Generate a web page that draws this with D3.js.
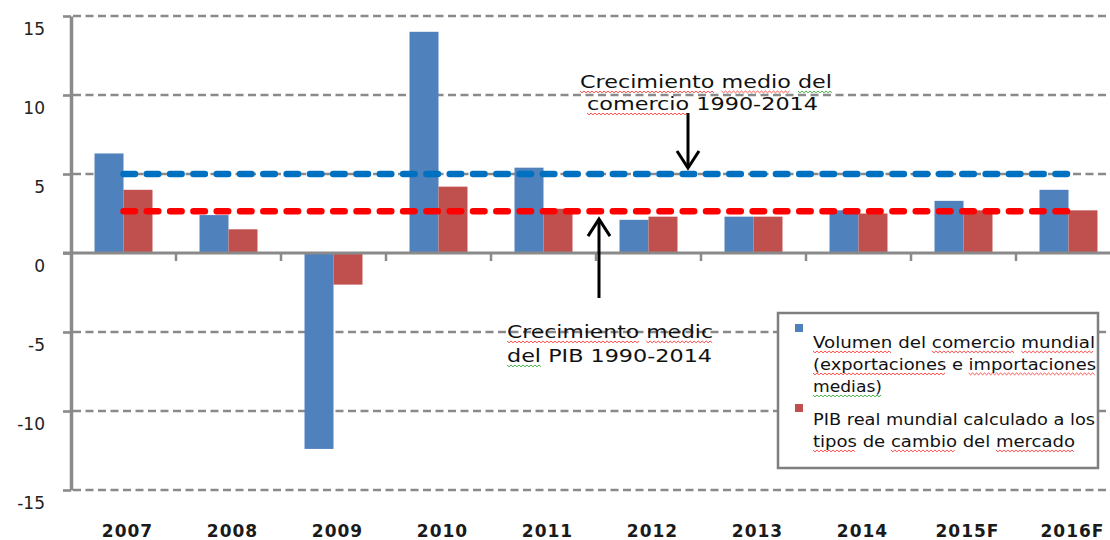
<!DOCTYPE html>
<html>
<head>
<meta charset="utf-8">
<script src="https://cdn.jsdelivr.net/npm/d3@7"></script>
<style>
  html, body { margin: 0; padding: 0; background: #fff; }
  svg { display: block; }
</style>
</head>
<body>
<div id="chart"></div>
<script>
// ---- data ----
let years = ["2007", "2008", "2009", "2010", "2011", "2012", "2013", "2014", "2015F", "2016F"]
let tradeVolume = [6.3, 2.4, -12.4, 14.0, 5.4, 2.1, 2.3, 2.7, 3.3, 4.0]
let realGDP = [4.0, 1.5, -2.0, 4.2, 2.8, 2.3, 2.3, 2.5, 2.7, 2.7]
let avgTrade = 5.0   // crecimiento medio del comercio 1990-2014
let avgGDP = 2.65    // crecimiento medio del PIB 1990-2014
let yTicks = [-15, -10, -5, 0, 5, 10, 15]
let seriesKeys = ["trade", "gdp"]
let seriesColors = {trade: "#4f81bd", gdp: "#c0504d"}
let legendTrade = ["Volumen del comercio mundial", "(exportaciones e importaciones", "medias)"]
let legendGDP = ["PIB real mundial calculado a los", "tipos de cambio del mercado"]
let noteTrade = ["Crecimiento medio del", "comercio 1990-2014"]
let noteGDP = ["Crecimiento medic", "del PIB 1990-2014"]

let rows = years.map((yr, i) => ({year: yr, trade: tradeVolume[i], gdp: realGDP[i]}))

let svg_width = 1110
let svg_height = 540
let plotLeft = 71
let plotRight = 1121
let plotTop = 16
let plotBottom = 490
let gray = "#8a8a8a"

let svg = d3.select("#chart")
  .append("svg")
  .attr("width", svg_width)
  .attr("height", svg_height)
  .style("font-family", "'DejaVu Sans', Verdana, sans-serif")

let y = d3.scaleLinear().domain([-15, 15]).range([plotBottom, plotTop])

let x0 = d3.scaleBand()
  .domain(years)
  .range([plotLeft, plotRight])
  .paddingInner(0.448)
  .paddingOuter(0.224)

let x1 = d3.scaleBand().domain(seriesKeys).range([0, x0.bandwidth()])

// dashed gridlines (not at zero)
svg.append("g")
  .selectAll("line")
  .data(yTicks.filter(t => t !== 0))
  .enter()
  .append("line")
  .attr("x1", plotLeft + 2)
  .attr("x2", svg_width)
  .attr("y1", d => y(d))
  .attr("y2", d => y(d))
  .attr("stroke", gray)
  .attr("stroke-width", 2.6)
  .attr("stroke-dasharray", "8,4.5")

// bars
let groups = svg.append("g")
  .selectAll("g")
  .data(rows)
  .enter()
  .append("g")
  .attr("transform", d => `translate(${x0(d.year)},0)`)

groups.selectAll("rect")
  .data(d => seriesKeys.map(k => ({key: k, value: d[k]})))
  .enter()
  .append("rect")
  .attr("x", d => x1(d.key))
  .attr("width", x1.bandwidth())
  .attr("y", d => y(Math.max(0, d.value)))
  .attr("height", d => Math.abs(y(d.value) - y(0)))
  .attr("fill", d => seriesColors[d.key])

// zero line + boundary ticks
svg.append("line")
  .attr("x1", plotLeft - 8).attr("x2", svg_width)
  .attr("y1", y(0)).attr("y2", y(0))
  .attr("stroke", gray).attr("stroke-width", 3)

let bounds = years.map(d => x0(d) + x0.bandwidth() / 2 - x0.step() / 2)
svg.append("g")
  .selectAll("line")
  .data(bounds.slice(1))
  .enter()
  .append("line")
  .attr("x1", d => d).attr("x2", d => d)
  .attr("y1", y(0)).attr("y2", y(0) + 8)
  .attr("stroke", gray).attr("stroke-width", 2.5)

// average growth lines
function avgLine(value, color) {
  svg.append("line")
    .attr("x1", x0(years[0]) + x0.bandwidth() / 2)
    .attr("x2", x0(years[years.length - 1]) + x0.bandwidth() / 2)
    .attr("y1", y(value)).attr("y2", y(value))
    .attr("stroke", color)
    .attr("stroke-width", 6.5)
    .attr("stroke-linecap", "round")
    .attr("stroke-dasharray", "11.5,11.8")
}
avgLine(avgTrade, "#0070c0")
avgLine(avgGDP, "#ff0000")

// y axis
let yAxis = svg.append("g")
  .attr("transform", `translate(${plotLeft},0)`)
  .call(d3.axisLeft(y).tickValues(yTicks).tickSize(8).tickSizeOuter(0).tickFormat(d => String(d)))
yAxis.select(".domain").attr("stroke", gray).attr("stroke-width", 3.5)
yAxis.selectAll(".tick line").attr("stroke", gray).attr("stroke-width", 2.6)
yAxis.selectAll(".tick text")
  .attr("x", -26)
  .attr("dy", 18)
  .attr("fill", "#222")
  .style("font-size", "17px")
  .style("font-family", "'DejaVu Sans', Verdana, sans-serif")

// x labels
let xAxis = svg.append("g")
  .attr("transform", "translate(4,537)")
  .call(d3.axisBottom(x0).tickSize(0).tickPadding(0))
xAxis.select(".domain").remove()
xAxis.selectAll(".tick text")
  .attr("y", 0)
  .attr("dy", 0)
  .attr("fill", "#1a1a1a")
  .style("font-size", "17px")
  .style("font-weight", "bold")
  .style("letter-spacing", "1px")
  .style("font-family", "'DejaVu Sans', Verdana, sans-serif")

// text fitted to a given width, with optional spell-check squiggles
function fitLine(str, left, baseline, width, size, marks) {
  let t = svg.append("text")
    .attr("x", left).attr("y", baseline)
    .attr("fill", "#111")
    .style("font-size", size + "px")
    .text(str)
  let node = t.node()
  let natural = node.getComputedTextLength()
  let ratio = width / natural
  let spans = (marks || []).map(m => {
    let idx = str.indexOf(m.word)
    let s = idx > 0 ? node.getSubStringLength(0, idx) : 0
    let w = node.getSubStringLength(idx, m.word.length)
    return {x0: left + s * ratio, x1: left + (s + w) * ratio, color: m.color}
  })
  t.attr("textLength", width).attr("lengthAdjust", "spacingAndGlyphs")
  spans.forEach(sp => {
    let pts = []
    let k = 0
    for (let xx = sp.x0; xx <= sp.x1; xx += 2, k++) pts.push([xx, baseline + 3 + (k % 2) * 1.8])
    svg.append("path")
      .attr("d", d3.line()(pts))
      .attr("fill", "none")
      .attr("stroke", sp.color)
      .attr("stroke-width", 1)
      .attr("opacity", 0.8)
  })
}
let red = "#ff2020", green = "#1e9e1e"

// annotation: trade average
fitLine(noteTrade[0], 580, 88, 252, 18,
  [{word: "Crecimiento", color: red}, {word: "medio", color: red}, {word: "del", color: green}])
fitLine(noteTrade[1], 587, 110, 231, 18, [{word: "comercio", color: red}])

// annotation: GDP average
fitLine(noteGDP[0], 507, 338, 206, 18,
  [{word: "Crecimiento", color: red}, {word: "medic", color: red}])
fitLine(noteGDP[1], 507, 362, 205, 18, [{word: "del", color: green}])

// arrows
function arrow(x, yFrom, yTo) {
  let dir = yTo > yFrom ? -1 : 1
  let g = svg.append("g").attr("stroke", "#000").attr("stroke-width", 3).attr("fill", "none")
  g.append("line").attr("x1", x).attr("x2", x).attr("y1", yFrom).attr("y2", yTo)
  g.append("path").attr("d", `M${x - 11},${yTo + dir * 17}L${x},${yTo}L${x + 11},${yTo + dir * 17}`)
}
arrow(688, 113, y(avgTrade) - 6)
arrow(599, 298, y(avgGDP) + 8)

// legend
svg.append("rect")
  .attr("x", 778).attr("y", 313)
  .attr("width", 320).attr("height", 155)
  .attr("fill", "#fff")
  .attr("stroke", "#7f7f7f")
  .attr("stroke-width", 2.5)

svg.append("rect").attr("x", 795).attr("y", 324).attr("width", 8).attr("height", 8).attr("fill", seriesColors.trade)
svg.append("rect").attr("x", 795).attr("y", 404).attr("width", 8).attr("height", 8).attr("fill", seriesColors.gdp)

fitLine(legendTrade[0], 813, 348, 282, 16,
  [{word: "Volumen", color: red}, {word: "comercio", color: red}, {word: "mundial", color: red}])
fitLine(legendTrade[1], 813, 370, 283, 16,
  [{word: "(exportaciones", color: red}, {word: "importaciones", color: red}])
fitLine(legendTrade[2], 813, 392, 69, 16, [{word: "medias)", color: green}])
fitLine(legendGDP[0], 813, 425, 282, 16, [])
fitLine(legendGDP[1], 813, 447, 262, 16,
  [{word: "tipos", color: red}, {word: "cambio", color: red}, {word: "mercado", color: red}])
</script>
</body>
</html>
